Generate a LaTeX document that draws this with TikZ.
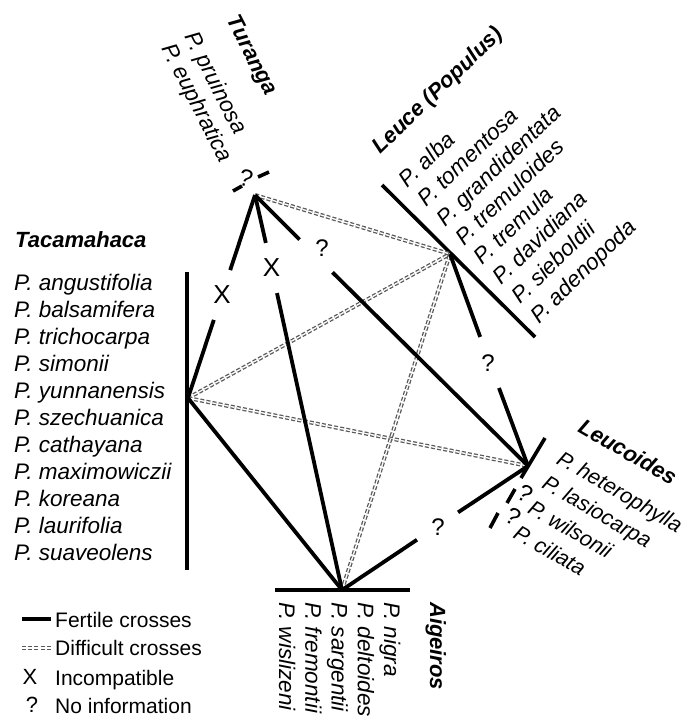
\documentclass[tikz,border=0pt]{standalone}
\usepackage{fontspec}
\setmainfont{Liberation Sans}
\usetikzlibrary{calc}
\begin{document}
\begin{tikzpicture}[x=1pt,y=-1pt,
  fertile/.style={line width=3.8pt},
  barline/.style={line width=3.6pt},
  difficult/.style={draw=black!65, line width=1.3pt, double=white, double distance=1.3pt, dash pattern=on 4pt off 2.2pt},
  sp/.style={font=\fontsize{22.5}{26}\selectfont\itshape, anchor=base west, inner sep=0pt},
  spsmall/.style={font=\fontsize{21.5}{26}\selectfont\itshape, anchor=base west, inner sep=0pt},
  hd/.style={font=\fontsize{22}{26}\selectfont\bfseries\itshape, anchor=base west, inner sep=0pt},
  lg/.style={font=\fontsize{21}{25}\selectfont, anchor=base west, inner sep=0pt},
  gapnode/.style={circle, inner sep=0pt, minimum size=#1, font=\fontsize{26}{30}\selectfont},
  qm/.style={font=\fontsize{24}{28}\selectfont, inner sep=0pt}
]
\useasboundingbox (0,0) rectangle (690,720);

% hubs
\coordinate (hT) at (255,195);
\coordinate (hTa) at (188,398);
\coordinate (hL) at (450,254);
\coordinate (hLc) at (528,466);
\coordinate (hA) at (342,590);

% bars
\coordinate (taA) at (187,272); \coordinate (taB) at (187,570);
\draw[barline] (taA) -- (taB);
\coordinate (leA) at (382,185); \coordinate (leB) at (535,337);
\draw[barline] (leA) -- (leB);
\coordinate (aiA) at (275,590); \coordinate (aiB) at (410,590);
\draw[barline] (aiA) -- (aiB);
\coordinate (lcA) at (545,438); \coordinate (lcB) at (521,478);
\draw[barline] (lcA) -- (lcB);
\coordinate (lcd1a) at (515,489); \coordinate (lcd1b) at (507,503);
\draw[barline] (lcd1a) -- (lcd1b);
\coordinate (lcd2a) at (498,513); \coordinate (lcd2b) at (490,528);
\draw[barline] (lcd2a) -- (lcd2b);
\node[qm, rotate=-30] (lcq1) at (525,494) {?};
\node[qm, rotate=-30] (lcq2) at (513,517) {?};
\coordinate (tud1a) at (233,191); \coordinate (tud1b) at (242,186);
\draw[barline] (tud1a) -- (tud1b);
\coordinate (tud2a) at (258,177); \coordinate (tud2b) at (269,172);
\draw[barline] (tud2a) -- (tud2b);
\node[qm, rotate=-15] (tuq) at (246,178) {?};

% difficult crosses
\draw[difficult] (hT) -- (hL);
\draw[difficult] (hTa) -- (hL);
\draw[difficult] (hTa) -- (hLc);
\draw[difficult] (hA) -- (hL);

% fertile crosses with gaps
\node[gapnode=52] (g1) at (222,295) {X};
\draw[fertile] (hT) -- (g1);
\draw[fertile] (g1) -- (hTa);
\node[gapnode=51] (g2) at (271.5,268) {X};
\draw[fertile] (hT) -- (g2);
\draw[fertile] (g2) -- (hA);
\node[gapnode=46] (g3) at (316,256) {};
\node[qm] (g3q) at (322,248) {?};
\draw[fertile] (hT) -- (g3);
\draw[fertile] (g3) -- (hLc);
\node[gapnode=54] (g4) at (489.5,362.5) {};
\node[qm] (g4q) at (488,363) {?};
\draw[fertile] (hL) -- (g4);
\draw[fertile] (g4) -- (hLc);
\node[gapnode=49] (g5) at (437.5,526) {};
\node[qm] (g5q) at (438,527) {?};
\draw[fertile] (hA) -- (g5);
\draw[fertile] (g5) -- (hLc);
\draw[fertile] (hTa) -- (hA);

% Turanga
\node[hd, rotate=-63] (tuH) at (226.4,19.7) {Turanga};
\node[sp, rotate=-63] (tu1) at (184.3,36.5) {P. pruinosa};
\node[sp, rotate=-63] (tu2) at (161.1,48.3) {P. euphratica};

% Leuce
\node[hd, rotate=44] (leH) at (380.6,154.8) {Leuce (Populus)};
\foreach \t [count=\k from 0] in {alba,tomentosa,grandidentata,tremuloides,tremula,davidiana,sieboldii,adenopoda}
  \node[sp, rotate=44] (le\k) at ({407.8+18.75*\k},{188.3+19.42*\k}) {P. \t};

% Tacamahaca
\node[hd] (taH) at (15,247) {Tacamahaca};
\foreach \t [count=\k from 0] in {angustifolia,balsamifera,trichocarpa,simonii,yunnanensis,szechuanica,cathayana,maximowiczii,koreana,laurifolia,suaveolens}
  \node[sp] (ta\k) at (14,{290+27*\k}) {P. \t};

% Leucoides
\node[hd, rotate=-30] (lcH) at (576.7,431.3) {Leucoides};
\foreach \t [count=\k from 0] in {heterophylla,lasiocarpa,wilsonii,ciliata}
  \node[spsmall, rotate=-30] (lc\k) at ({555.1-14.35*\k},{462.9+24.85*\k}) {P. \t};

% Aigeiros
\node[hd, rotate=-90] (aiH) at (430,602) {Aigeiros};
\foreach \t [count=\k from 0] in {nigra,deltoides,sargentii,fremontii,wislizeni}
  \node[sp, rotate=-90] (ai\k) at ({384-26.2*\k},602) {P. \t};

% legend
\coordinate (l1a) at (22,619); \coordinate (l1b) at (51,619);
\draw[fertile] (l1a) -- (l1b);
\node[lg] (l1t) at (55,627) {Fertile crosses};
\coordinate (l2a) at (22,648); \coordinate (l2b) at (51,648);
\draw[difficult] (l2a) -- (l2b);
\node[lg] (l2t) at (55,655) {Difficult crosses};
\node[font=\fontsize{22}{26}\selectfont, inner sep=0pt] (l3s) at (30,677) {X};
\node[lg] (l3t) at (55,685) {Incompatible};
\node[font=\fontsize{22}{26}\selectfont, inner sep=0pt] (l4s) at (32,705) {?};
\node[lg] (l4t) at (55,713) {No information};
\end{tikzpicture}
\end{document}
